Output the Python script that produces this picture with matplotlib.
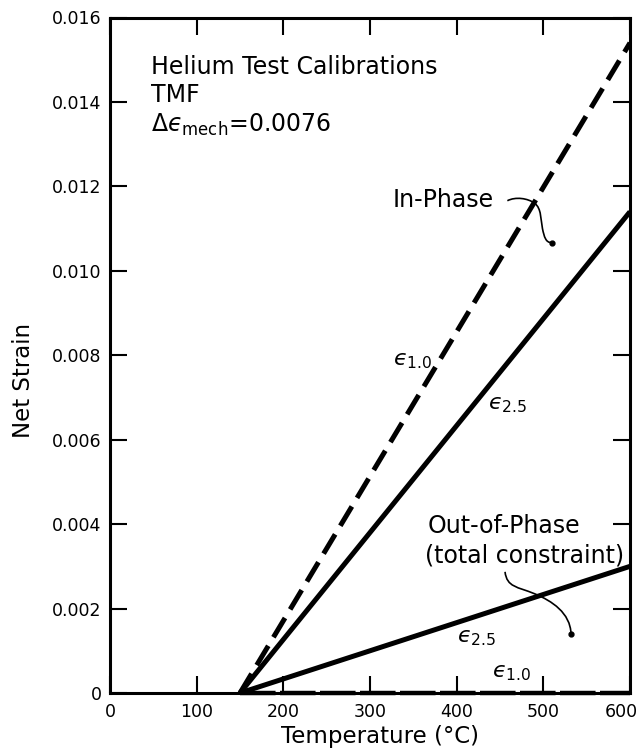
import matplotlib
matplotlib.use("Agg")
import matplotlib.pyplot as plt
import matplotlib.transforms as mtransforms
from matplotlib.path import Path
from matplotlib.patches import PathPatch

plt.rcParams['font.family'] = ['DejaVu Sans']
plt.rcParams['mathtext.fontset'] = 'dejavusans'

# Calibration lines: net strain vs temperature, starting at 150 C
temps = [150, 600]
in_phase_e10 = [0.0, 0.0154]
in_phase_e25 = [0.0, 0.0114]
out_phase_e25 = [0.0, 0.0030]
out_phase_e10 = [0.0, 0.0]

x_ticks = [0, 100, 200, 300, 400, 500, 600]
x_tick_labels = ['0', '100', '200', '300', '400', '500', '600']
y_ticks = [0, 0.002, 0.004, 0.006, 0.008, 0.010, 0.012, 0.014, 0.016]
y_tick_labels = ['0', '0.002', '0.004', '0.006', '0.008', '0.010',
                 '0.012', '0.014', '0.016']

fig = plt.figure(figsize=(6.44, 7.52), dpi=100)
ax = fig.add_axes([110 / 644, 59 / 752, 520 / 644, 675.5 / 752])

ax.plot(temps, in_phase_e10, color='black', lw=3.6, dashes=(4.5, 2.0),
        dash_capstyle='butt', solid_capstyle='butt')
ax.plot(temps, in_phase_e25, color='black', lw=3.6, solid_capstyle='butt')
ax.plot(temps, out_phase_e25, color='black', lw=3.6, solid_capstyle='butt')
ax.plot(temps, out_phase_e10, color='black', lw=3.2, dashes=(8, 1.0),
        dash_capstyle='butt', clip_on=False, zorder=5)

ax.set_xlim(0, 600)
ax.set_ylim(0, 0.016)
ax.set_xticks(x_ticks)
ax.set_xticklabels(x_tick_labels)
ax.set_yticks(y_ticks)
ax.set_yticklabels(y_tick_labels)
ax.tick_params(direction='in', length=12, width=1.5, labelsize=12.5,
               top=True, right=True, color='black')
ax.tick_params(axis='x', pad=7)
ax.tick_params(axis='y', pad=6)
for sp in ax.spines.values():
    sp.set_linewidth(2.2)

# keep the last x tick label inside the figure
last = ax.get_xticklabels()[-1]
last.set_transform(last.get_transform() +
                   mtransforms.ScaledTranslation(-9 / 100, 0, fig.dpi_scale_trans))

ax.set_xlabel('Temperature (°C)', fontsize=16.5)
ax.set_ylabel('Net Strain', fontsize=16.5)
ax.xaxis.set_label_coords(0.52, -0.047)
ax.yaxis.set_label_coords(-0.145, 0.462)

EPS = '\u03f5'

# Header text block
ax.text(47, 0.01467, 'Helium Test Calibrations', fontsize=17, va='baseline')
ax.text(47, 0.01400, 'TMF', fontsize=17, va='baseline')
ax.text(47, 0.01330, r'$\Delta' + EPS + r'_{\mathrm{mech}}$=0.0076', fontsize=17,
        va='baseline')

# Curve labels
ax.text(326.5, 0.0115, 'In-Phase', fontsize=17, va='baseline')
ax.text(366, 0.00379, 'Out-of-Phase', fontsize=17, va='baseline')
ax.text(363.5, 0.0031, '(total constraint)', fontsize=17, va='baseline')

ax.text(326.5, 0.00777, '$' + EPS + r'_{1.0}$', fontsize=16, va='baseline')
ax.text(436, 0.00671, '$' + EPS + r'_{2.5}$', fontsize=16, va='baseline')
ax.text(400, 0.00121, '$' + EPS + r'_{2.5}$', fontsize=16, va='baseline')
ax.text(441, 0.00038, '$' + EPS + r'_{1.0}$', fontsize=16, va='baseline')

# Leader curves for the group labels
C4 = Path.CURVE4
in_leader = Path(
    [(458.5, 0.01166), (468, 0.01176), (482, 0.01172), (490, 0.01160),
     (498, 0.01148), (497, 0.0112), (499, 0.0110),
     (501, 0.0108), (503, 0.01066), (509.6, 0.01067)],
    [Path.MOVETO, C4, C4, C4, C4, C4, C4, C4, C4, C4])
out_leader = Path(
    [(455.8, 0.00287), (458, 0.0025), (470, 0.00252), (490, 0.00235),
     (510, 0.00218), (531, 0.0019), (532, 0.0014)],
    [Path.MOVETO, C4, C4, C4, C4, C4, C4])
for p in (in_leader, out_leader):
    ax.add_patch(PathPatch(p, facecolor='none', edgecolor='black', lw=1.2))
ax.plot([509.6, 532], [0.01067, 0.0014], 'o', color='black', ms=3.5, lw=0)

fig.savefig('out.png', dpi=100)
